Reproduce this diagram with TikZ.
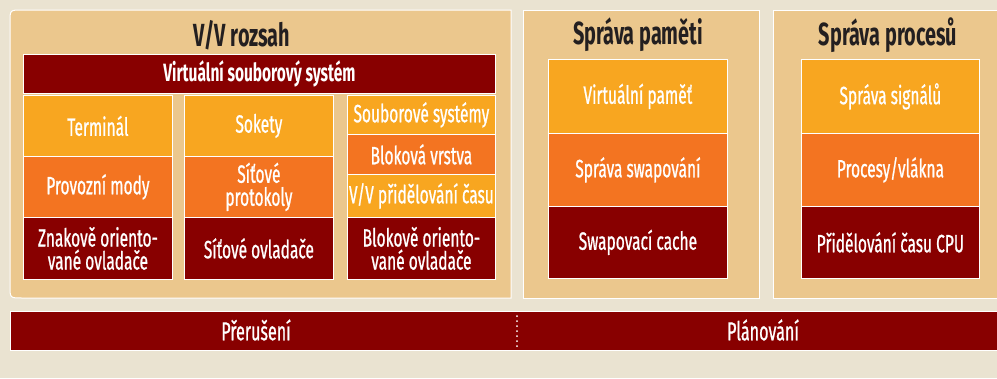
\documentclass[tikz,border=0pt]{standalone}
\usepackage{fontspec}
\usepackage{xcolor}
\usepackage{tikz}
\usetikzlibrary{positioning}
\newfontfamily\cellfont[FakeStretch=0.62,FakeBold=0.8]{Fira Sans}
\newfontfamily\headfont[FakeStretch=0.62]{Fira Sans}

\definecolor{bgbeige}{HTML}{EAE3D1}
\definecolor{paneltan}{HTML}{EBC78D}
\definecolor{darkred}{HTML}{880000}
\definecolor{midorange}{HTML}{F37421}
\definecolor{lightorange}{HTML}{F8A620}
\definecolor{headgray}{HTML}{231F20}

\begin{document}
\begin{tikzpicture}[x=1pt, y=-1pt,
    panel/.style={fill=paneltan, draw=white, line width=1pt},
    heading/.style={font=\headfont\bfseries\fontsize{32}{32}\selectfont, text=headgray, inner sep=0pt},
    cell/.style={draw=white, line width=0.8pt, text=white, align=center, inner sep=0pt,
                 anchor=north west, font=\cellfont\fontsize{25}{23}\selectfont},
    size/.style 2 args={minimum width=#1pt, minimum height=#2pt},
    dark/.style={cell, fill=darkred},
    mid/.style={cell, fill=midorange},
    light/.style={cell, fill=lightorange},
    bartext/.style={text=white, font=\cellfont\fontsize{26}{26}\selectfont, inner sep=0pt}]

      % Background
      \fill[bgbeige] (0,0) rectangle (997,378);
      \useasboundingbox (0,0) rectangle (997,378);

      % Panels
      \draw[panel] (511,10) -- (22,10) .. controls (10,10) .. (10,22) -- (10,286)
                   .. controls (10,298) .. (22,298) -- (511,298) -- cycle;
      \draw[panel] (523,10) rectangle (759,298);
      \draw[panel] (773,10) rectangle (1005,298);

      % V/V rozsah
      \node[heading] (io) at (242,35) {V/V rozsah};
      \node[dark, size={472}{39}] (vfs) at (23,54) {\headfont\bfseries Virtuální souborový systém};

      \node[light, size={149}{61}] (term) at (23,95) {Terminál};
      \node[mid, size={149}{61}] (modes) at (23,156) {Provozní mody};
      \node[dark, size={149}{62}] (chardrv) at (23,217) {Znakově oriento-\\vané ovladače};

      \node[light, size={149}{61}] (sock) at (184,95) {Sokety};
      \node[mid, size={149}{61}] (proto) at (184,156) {Síťové\\protokoly};
      \node[dark, size={149}{62}] (netdrv) at (184,217) {Síťové ovladače};

      \node[light, size={148}{39}] (fs) at (347,95) {Souborové systémy};
      \node[mid, size={148}{40}] (blk) at (347,134) {Bloková vrstva};
      \node[light, size={148}{43}] (iosched) at (347,174) {V/V přidělování času};
      \node[dark, size={148}{62}] (blkdrv) at (347,217) {Blokově oriento-\\vané ovladače};

      % Správa paměti
      \node[heading] (mem) at (638,35) {Správa paměti};
      \node[light, size={179}{74}] (vmem) at (548,59) {Virtuální paměť};
      \node[mid, size={179}{73}] (swap) at (548,133) {Správa swapování};
      \node[dark, size={179}{72}] (swcache) at (548,206) {Swapovací cache};

      % Správa procesů
      \node[heading] (proc) at (888,35) {Správa procesů};
      \node[light, size={178}{74}] (sig) at (801,59) {Správa signálů};
      \node[mid, size={178}{73}] (threads) at (801,133) {Procesy/vlákna};
      \node[dark, size={178}{72}] (cpusched) at (801,206) {Přidělování času CPU};

      % Bottom bar
      \node[dark, size={995}{39}] (bar) at (10,311) {};
      \node[bartext] (irq) at (256,330) {Přerušení};
      \node[bartext] (plan) at (763,330) {Plánování};
      \coordinate (septop) at (517,316);
      \coordinate (sepbot) at (517,347);
      \draw[white, line width=2pt, line cap=round, dash pattern=on 0pt off 5pt] (septop) -- (sepbot);
    \end{tikzpicture}
\end{document}
